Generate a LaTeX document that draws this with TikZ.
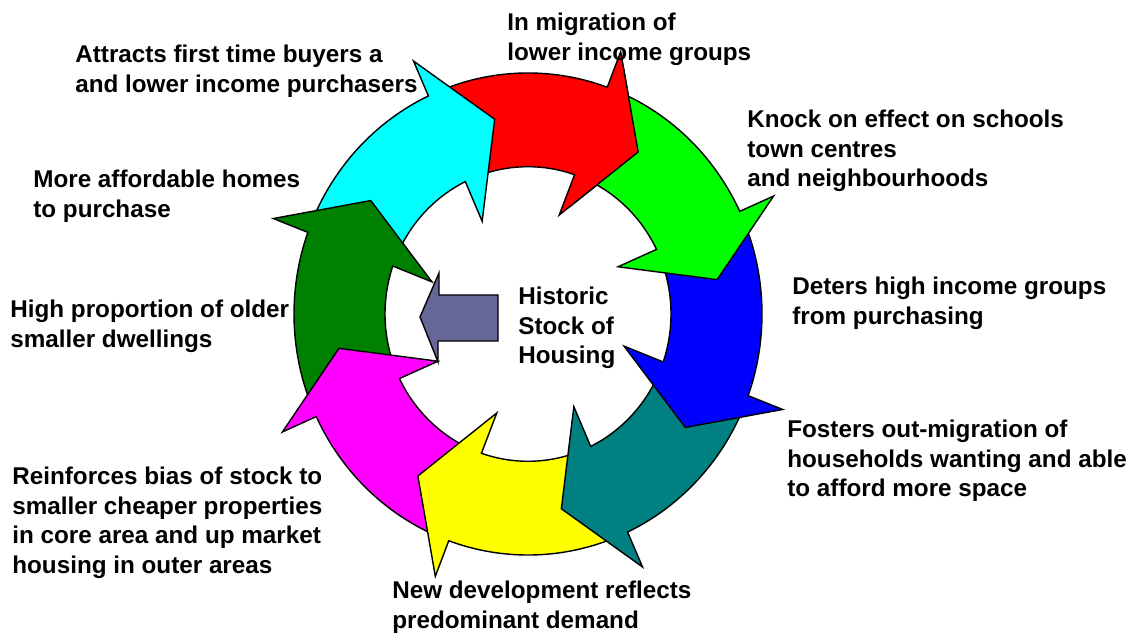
\documentclass[tikz,border=0pt]{standalone}
\usepackage{fontspec}
\setmainfont{Liberation Sans}
\definecolor{ringred}{RGB}{255,0,0}
\definecolor{ringgreen}{RGB}{0,255,0}
\definecolor{ringblue}{RGB}{0,0,255}
\definecolor{ringteal}{RGB}{0,128,128}
\definecolor{ringyellow}{RGB}{255,255,0}
\definecolor{ringmagenta}{RGB}{255,0,255}
\definecolor{ringdkgreen}{RGB}{0,128,0}
\definecolor{ringcyan}{RGB}{0,255,255}
\definecolor{stockgrey}{RGB}{102,102,153}

% one piece of the ring: fill colour, angle of the tip
\newcommand\ringarrow[2]{%
  \filldraw[ringpiece, fill=#1] ({#2+57}:234) arc[start angle=#2+57, end angle=#2+15.2, radius=234]
    -- ({#2+15}:271) -- (#2:192) -- ({#2+17}:101) -- ({#2+16}:143)
    arc[start angle=#2+16, end angle=#2+57, radius=143] -- cycle;}

\begin{document}
\begin{tikzpicture}[x=0.02cm, y=0.02cm,
  ringpiece/.style={draw=black, line width=0.8pt, line join=miter},
  lbl/.style={anchor=north west, inner sep=0pt, align=left, font=\fontsize{13.8}{16.8}\selectfont\bfseries},
]
\useasboundingbox (0,0) rectangle (1138,632);

% ring of arrows, each head lying over the next tail
\begin{scope}[shift={(528,318)}, yscale=1.03]
  \foreach \col/\t in {ringred/55, ringcyan/100, ringdkgreen/145, ringmagenta/190, ringyellow/235, ringteal/280, ringblue/325, ringgreen/10}
    \ringarrow{\col}{\t};
  % red head once more, over the green tail
  \begin{scope}
    \clip (0,0) -- (25:330) arc[start angle=25, end angle=68, radius=330] -- cycle;
    \ringarrow{ringred}{55}
  \end{scope}
\end{scope}

% centre arrow
\filldraw[ringpiece, fill=stockgrey] (498,337) -- (439,337) -- (439,359) -- (420,315)
  -- (438,270) -- (438,291) -- (498,291) -- cycle;

% labels
\node[lbl] (migr) at (507,619) {In migration of\\lower income groups};
\node[lbl] (attr) at (75,587) {Attracts first time buyers a\\and lower income purchasers};
\node[lbl] (knock) at (747,522) {Knock on effect on schools\\town centres\\and neighbourhoods};
\node[lbl] (afford) at (33,462) {More affordable homes\\to purchase};
\node[lbl] (deters) at (792,355) {Deters high income groups\\from purchasing};
\node[lbl] (older) at (10,332) {High proportion of older\\smaller dwellings};
\node[lbl] (stock) at (518,345) {Historic\\Stock of\\Housing};
\node[lbl] (fosters) at (787,212) {Fosters out-migration of\\households wanting and able\\to afford more space};
\node[lbl] (bias) at (12,165) {Reinforces bias of stock to\\smaller cheaper properties\\in core area and up market\\housing in outer areas};
\node[lbl] (newdev) at (392,51) {New development reflects\\predominant demand};

\end{tikzpicture}
\end{document}
